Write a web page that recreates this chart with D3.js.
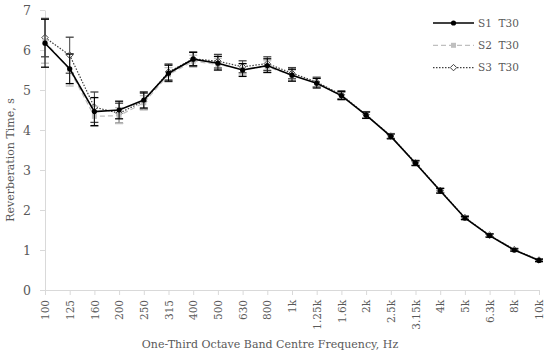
<!DOCTYPE html>
<html>
<head>
<meta charset="utf-8">
<script src="https://cdn.jsdelivr.net/npm/d3@7"></script>
<style>
  body { margin: 0; background: #fff; }
  svg text { fill: #595959; white-space: pre; }
</style>
</head>
<body>
<div id="main"></div>
<script>
// one-third octave band centres
const bands = ["100","125","160","200","250","315","400","500","630","800","1k","1.25k","1.6k","2k","2.5k","3.15k","4k","5k","6.3k","8k","10k"];

// mean T30 per source position, s
const s1 = [6.17, 5.53, 4.46, 4.50, 4.75, 5.42, 5.77, 5.67, 5.50, 5.61, 5.37, 5.17, 4.86, 4.37, 3.84, 3.17, 2.48, 1.80, 1.36, 1.00, 0.74];
const s2 = [6.22, 5.50, 4.34, 4.36, 4.68, 5.38, 5.72, 5.64, 5.52, 5.58, 5.37, 5.18, 4.85, 4.38, 3.85, 3.17, 2.48, 1.80, 1.36, 1.00, 0.74];
const s3 = [6.31, 5.87, 4.57, 4.42, 4.72, 5.45, 5.78, 5.72, 5.58, 5.66, 5.42, 5.20, 4.88, 4.38, 3.85, 3.18, 2.49, 1.81, 1.37, 1.01, 0.75];

// standard deviations (error bars)
const s1Err = [0.60, 0.37, 0.35, 0.22, 0.20, 0.20, 0.17, 0.17, 0.16, 0.17, 0.15, 0.12, 0.10, 0.08, 0.06, 0.06, 0.06, 0.04, 0.04, 0.03, 0.03];
const s2Err = [0.55, 0.40, 0.25, 0.20, 0.18, 0.18, 0.15, 0.15, 0.14, 0.15, 0.13, 0.11, 0.09, 0.07, 0.06, 0.05, 0.05, 0.04, 0.03, 0.03, 0.03];
const s3Err = [0.48, 0.45, 0.38, 0.25, 0.20, 0.20, 0.17, 0.17, 0.15, 0.17, 0.14, 0.12, 0.10, 0.08, 0.06, 0.06, 0.05, 0.04, 0.04, 0.03, 0.03];

const yTicks = [0, 1, 2, 3, 4, 5, 6, 7];
const seriesNames = ["S1  T30", "S2  T30", "S3  T30"];

const config = {width: 550, height: 356, left: 45, right: 11, top: 10, bottom: 66};
const serif = "DejaVu Serif";

const series = [
  {name: seriesNames[0], values: s1, err: s1Err, color: "#000000", dash: null, width: 1.6, marker: "circle"},
  {name: seriesNames[1], values: s2, err: s2Err, color: "#bfbfbf", dash: "5,3", width: 1.2, marker: "square"},
  {name: seriesNames[2], values: s3, err: s3Err, color: "#404040", dash: "1.5,1.5", width: 1.2, marker: "diamond"}
];

const svg = d3.select("#main").append("svg")
    .attr("width", config.width)
    .attr("height", config.height)
    .attr("font-family", serif);

const x = d3.scalePoint()
    .domain(bands)
    .range([config.left, config.width - config.right]);

const y = d3.scaleLinear()
    .domain([0, 7])
    .range([config.height - config.bottom, config.top]);

// axes
const xAxis = svg.append("g")
    .attr("transform", `translate(0,${y(0)})`)
    .call(d3.axisBottom(x).tickSize(5).tickSizeOuter(0).tickPadding(4))
    .attr("font-family", serif);
xAxis.select(".domain").attr("stroke", "#d9d9d9");
xAxis.selectAll(".tick line").attr("stroke", "#d9d9d9");
xAxis.selectAll(".tick text")
    .attr("transform", "rotate(-90)")
    .attr("text-anchor", "end")
    .attr("x", -10)
    .attr("y", 0)
    .attr("dy", "0.35em")
    .attr("font-size", 10.5)
    .attr("fill", "#595959");

const yAxis = svg.append("g")
    .attr("transform", `translate(${config.left},0)`)
    .call(d3.axisLeft(y).tickValues(yTicks).tickFormat(d3.format("d")).tickSize(5).tickSizeOuter(0).tickPadding(9))
    .attr("font-family", serif);
yAxis.select(".domain").attr("stroke", "#d9d9d9");
yAxis.selectAll(".tick line").attr("stroke", "#d9d9d9");
yAxis.selectAll(".tick text").attr("font-size", 12.5).attr("fill", "#595959");

// axis titles
svg.append("text")
    .attr("x", 270)
    .attr("y", 348)
    .attr("text-anchor", "middle")
    .attr("font-size", 11)
    .text("One-Third Octave Band Centre Frequency, Hz");

svg.append("text")
    .attr("transform", "translate(14,160) rotate(-90)")
    .attr("text-anchor", "middle")
    .attr("font-size", 11)
    .text("Reverberation Time, s");

function drawMarker(g, type, cx, cy, color) {
  if (type === "circle") {
    g.append("circle").attr("cx", cx).attr("cy", cy).attr("r", 2.6).attr("fill", color);
  } else if (type === "square") {
    g.append("rect").attr("x", cx - 2.5).attr("y", cy - 2.5).attr("width", 5).attr("height", 5)
      .attr("fill", color);
  } else {
    const r = 3.2;
    g.append("path")
      .attr("d", `M${cx},${cy - r}L${cx + r},${cy}L${cx},${cy + r}L${cx - r},${cy}Z`)
      .attr("fill", "#fff").attr("stroke", color).attr("stroke-width", 1);
  }
}

const line = d3.line()
    .x((d, i) => x(bands[i]))
    .y(d => y(d));

// draw in reverse so S1 ends on top
series.slice().reverse().forEach(s => {
  const g = svg.append("g");
  // error bars
  s.values.forEach((v, i) => {
    const cx = x(bands[i]);
    const lo = y(v - s.err[i]), hi = y(v + s.err[i]);
    g.append("line").attr("x1", cx).attr("x2", cx).attr("y1", lo).attr("y2", hi)
      .attr("stroke", s.color).attr("stroke-width", 1);
    [lo, hi].forEach(yy => {
      g.append("line").attr("x1", cx - 4).attr("x2", cx + 4).attr("y1", yy).attr("y2", yy)
        .attr("stroke", s.color).attr("stroke-width", 1.3);
    });
  });
  g.append("path")
    .datum(s.values)
    .attr("d", line)
    .attr("fill", "none")
    .attr("stroke", s.color)
    .attr("stroke-width", s.width)
    .attr("stroke-dasharray", s.dash);
  s.values.forEach((v, i) => drawMarker(g, s.marker, x(bands[i]), y(v), s.color));
});

// legend
const legend = svg.append("g").attr("transform", "translate(433,23)");
series.forEach((s, i) => {
  const row = legend.append("g").attr("transform", `translate(0,${i * 22.3})`);
  row.append("line").attr("x1", 0).attr("x2", 41).attr("y1", 0).attr("y2", 0)
    .attr("stroke", s.color).attr("stroke-width", s.width).attr("stroke-dasharray", s.dash);
  drawMarker(row, s.marker, 20.5, 0, s.color);
  row.append("text").attr("x", 45).attr("y", 0).attr("dy", "0.35em")
    .attr("font-size", 10.5).text(s.name);
});
</script>
</body>
</html>
